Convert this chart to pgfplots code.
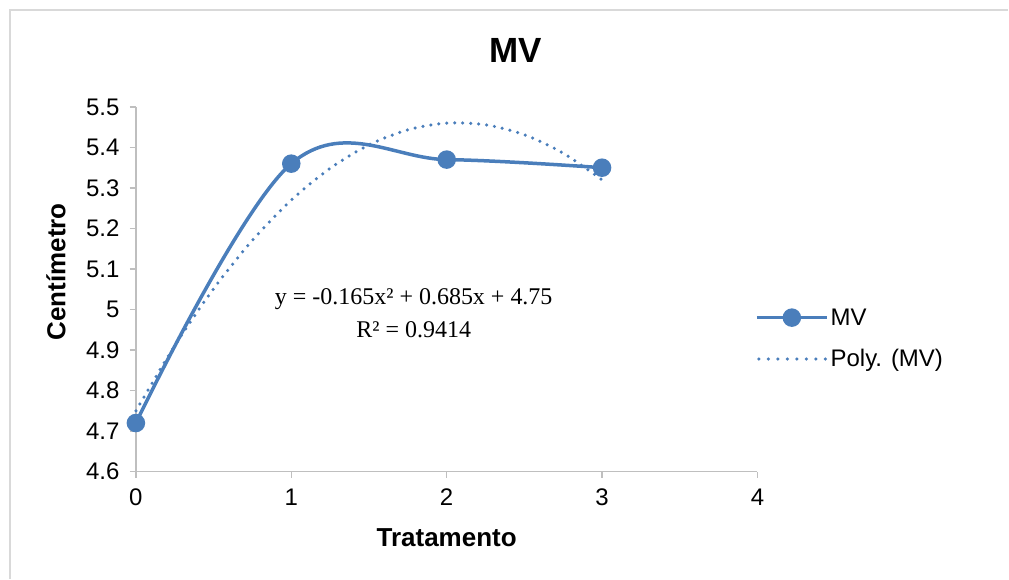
\documentclass[border=0pt]{standalone}
\usepackage{pgfplots}
\pgfplotsset{compat=1.18}
\usepackage{fontspec}
\setmainfont{Liberation Sans}
\newfontfamily\eqfont{Liberation Serif}
\definecolor{mvblue}{HTML}{4A7EBB}
\definecolor{axgray}{HTML}{BFBFBF}
\definecolor{framegray}{HTML}{D9D9D9}
\begin{document}
\begin{tikzpicture}[x=1pt,y=1pt]
\fill[white] (-136,-107) rectangle (873,472);
\draw[framegray, line width=1.5pt] (-126,-107) -- (-126,462) -- (873,462);
\begin{axis}[
  at={(0,0)}, anchor=south west,
  scale only axis, width=622pt, height=365pt,
  xmin=0, xmax=4, ymin=4.6, ymax=5.5,
  xtick={0,1,2,3,4},
  ytick={4.6,4.7,4.8,4.9,5.0,5.1,5.2,5.3,5.4,5.5},
  axis x line*=bottom, axis y line*=left,
  axis line style={axgray, line width=1.3pt},
  tick align=outside, major tick length=6pt,
  tick style={axgray, line width=1.3pt},
  /pgf/number format/assume math mode=true,
  /pgf/number format/fixed, /pgf/number format/precision=1,
  ticklabel style={font=\fontsize{24}{24}\selectfont, text=black},
  xticklabel style={yshift=-8pt},
  yticklabel style={xshift=-7pt},
  clip=false,
  legend style={draw=none, fill=none, at={(0.996,0.453)}, anchor=north west,
    font=\fontsize{24}{24}\selectfont, row sep=19pt, inner sep=0pt,
    cells={anchor=west}},
  legend cell align=left,
]
\addplot[mvblue, line width=3.5pt, smooth, tension=0.6, mark=*, mark size=7.5pt,
  legend image code/.code={
    \draw[mvblue, line width=3.5pt] (0pt,0pt) -- (70pt,0pt);
    \fill[mvblue] (35pt,0pt) circle (7.5pt);}]
  coordinates {(0,4.72) (1,5.36) (2,5.37) (3,5.35)};
\addlegendentry{MV}
\addplot[mvblue, line width=3.5pt, line cap=round, dash pattern=on 0pt off 8pt,
  smooth,
  legend image code/.code={
    \draw[mvblue, line width=3.5pt, line cap=round, dash pattern=on 0pt off 9.5pt] (2pt,0pt) -- (70pt,0pt);}]
  coordinates {(0,4.75) (0.25,4.9109) (0.5,5.0513) (0.75,5.1709) (1,5.27)
    (1.25,5.3484) (1.5,5.4063) (1.75,5.4434) (2,5.46) (2.25,5.4559)
    (2.5,5.4313) (2.75,5.3859) (3,5.32)};
\addlegendentry{Poly. (MV)}
\end{axis}
\node[font=\fontsize{35}{35}\selectfont\bfseries] at (380,421) {MV};
\node[font=\fontsize{26}{26}\selectfont\bfseries] at (311,-66) {Tratamento};
\node[font=\fontsize{26}{26}\selectfont\bfseries, rotate=90] at (-80,200) {Centímetro};
\node[font=\eqfont\fontsize{24}{24}\selectfont] at (278,173) {y = -0.165x² + 0.685x + 4.75};
\node[font=\eqfont\fontsize{24}{24}\selectfont] at (278,142) {R² = 0.9414};
\end{tikzpicture}
\end{document}
